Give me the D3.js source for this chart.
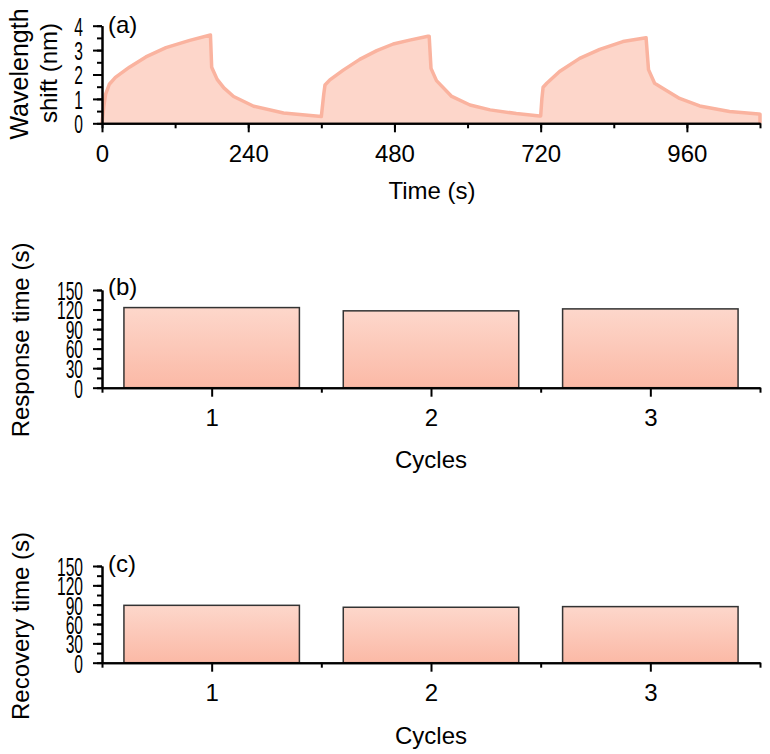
<!DOCTYPE html>
<html>
<head>
<meta charset="utf-8">
<script src="https://cdn.jsdelivr.net/npm/d3@7"></script>
<style>
  html, body { margin: 0; padding: 0; background: #fff; }
  svg { display: block; }
  svg text { font-family: "Liberation Sans", Arial, sans-serif; }
</style>
</head>
<body>
<svg id="chart" width="770" height="754"></svg>
<script>
// (a) wavelength shift vs time, three on/off cycles
const shiftTime = [0, 3, 6, 12, 22, 45, 72, 105, 144, 178, 180, 189, 200, 216, 249, 298, 360,
  364, 366, 374, 396, 423, 451, 478, 505, 535, 537, 540, 549, 574, 604, 637, 680, 718,
  720, 722, 724, 730, 751, 784, 817, 855, 893, 897, 907, 921, 948, 981, 1030, 1078, 1080];
const shiftValue = [0, 0.7, 1.2, 1.6, 1.88, 2.3, 2.72, 3.1, 3.4, 3.62, 2.3, 1.8, 1.45, 1.1, 0.7, 0.42, 0.28,
  1.2, 1.57, 1.78, 2.18, 2.62, 2.98, 3.25, 3.41, 3.57, 3.57, 2.25, 1.75, 1.1, 0.75, 0.55, 0.4, 0.3,
  0.3, 1.0, 1.48, 1.64, 2.12, 2.66, 3.03, 3.35, 3.51, 2.2, 1.64, 1.43, 1.02, 0.71, 0.48, 0.38, 0.37];
const timeTicks = [0, 240, 480, 720, 960];

// (b), (c) bars per cycle
const cycles = [1, 2, 3];
const responseTime = [123, 118, 121];
const recoveryTime = [89, 86, 87];
const timeAxisTicks = [0, 30, 60, 90, 120, 150];

const svg = d3.select('#chart');
const FONT = 24;
const X0 = 102, X1 = 760;

const defs = svg.append('defs');
const grad = defs.append('linearGradient')
  .attr('id', 'barGrad').attr('x1', 0).attr('y1', 0).attr('x2', 0).attr('y2', 1);
grad.append('stop').attr('offset', '0%').attr('stop-color', '#fdd7cb');
grad.append('stop').attr('offset', '100%').attr('stop-color', '#fbb9a6');

// 畫主/次刻度的軸
function drawAxis(g, axisFn, scale, major, minor, fmt) {
  const minorAx = axisFn(scale).tickValues(minor).tickSize(5).tickSizeOuter(0).tickFormat('');
  const majorAx = axisFn(scale).tickValues(major).tickSize(9).tickSizeOuter(0).tickFormat(fmt || d3.format('d'));
  const gm = g.append('g').call(minorAx);
  const gM = g.append('g').call(majorAx);
  [gm, gM].forEach((a) => {
    a.attr('font-family', null).attr('font-size', null);
    a.selectAll('path.domain').attr('stroke', '#000').attr('stroke-width', 2);
    a.selectAll('.tick line').attr('stroke', '#000').attr('stroke-width', 2);
  });
  gM.selectAll('text').attr('fill', '#000').style('font-size', FONT + 'px');
  return gM;
}

function styleY(gM) {
  // 窄化的 y 刻度標籤（原圖字形被壓扁）
  gM.selectAll('.tick text')
    .attr('x', null)
    .attr('dy', '0.36em')
    .attr('text-anchor', 'end')
    .style('font-size', '26px')
    .attr('transform', 'translate(-19,0) scale(0.6,1)');
}

function styleX(gM, offset) {
  gM.selectAll('.tick text').attr('y', offset).attr('dy', null);
}

// ---------- (a) ----------
{
  const x = d3.scaleLinear().domain([0, 1080]).range([X0, X1]);
  const y = d3.scaleLinear().domain([0, 4]).range([123.3, 25.7]);
  const pts = shiftTime.map((t, i) => [t, shiftValue[i]]);

  const area = d3.area().x((d) => x(d[0])).y0(y(0)).y1((d) => y(d[1]));
  const line = d3.line().x((d) => x(d[0])).y((d) => y(d[1]));

  svg.append('path').datum(pts).attr('d', area).attr('fill', '#fdd6ca');
  svg.append('path').datum(pts.concat([[1080, 0]])).attr('d', line)
    .attr('fill', 'none').attr('stroke', '#fab39f').attr('stroke-width', 3.5)
    .attr('stroke-linejoin', 'round');

  const gx = svg.append('g').attr('transform', `translate(0,${y(0)})`);
  styleX(drawAxis(gx, d3.axisBottom, x, timeTicks, d3.range(0, 1081, 120)), 38.5);

  const gy = svg.append('g').attr('transform', `translate(${X0},0)`);
  styleY(drawAxis(gy, d3.axisLeft, y, [0, 1, 2, 3, 4], d3.range(0, 4.01, 0.5)));

  svg.append('text').attr('x', 108).attr('y', 33).style('font-size', FONT + 'px').text('(a)');
  svg.append('text').attr('x', 432).attr('y', 199).attr('text-anchor', 'middle')
    .style('font-size', FONT + 'px').text('Time (s)');
  svg.append('text').attr('transform', 'translate(28,74) rotate(-90)').attr('text-anchor', 'middle')
    .style('font-size', '25px').text('Wavelength');
  svg.append('text').attr('transform', 'translate(57,73) rotate(-90)').attr('text-anchor', 'middle')
    .style('font-size', FONT + 'px').text('shift (nm)');
}

// ---------- (b), (c) ----------
function barPanel(values, yBottom, yTop, tag, tagY, title, titleY, cyclesY) {
  const x = d3.scaleLinear().domain([0.5, 3.5]).range([X0, X1]);
  const y = d3.scaleLinear().domain([0, 150]).range([yBottom, yTop]);
  const w = x(1.3) - x(0.5);

  svg.append('g').selectAll('rect').data(cycles).join('rect')
    .attr('x', (d) => x(d - 0.4))
    .attr('y', (d, i) => y(values[i]))
    .attr('width', w)
    .attr('height', (d, i) => y(0) - y(values[i]))
    .attr('fill', 'url(#barGrad)')
    .attr('stroke', '#333').attr('stroke-width', 1.5);

  const gx = svg.append('g').attr('transform', `translate(0,${yBottom})`);
  styleX(drawAxis(gx, d3.axisBottom, x, cycles, [0.5, 1.5, 2.5, 3.5]), 38);

  const gy = svg.append('g').attr('transform', `translate(${X0},0)`);
  styleY(drawAxis(gy, d3.axisLeft, y, timeAxisTicks, d3.range(0, 151, 15)));

  svg.append('text').attr('x', 108).attr('y', tagY).style('font-size', FONT + 'px').text(tag);
  svg.append('text').attr('x', 431).attr('y', cyclesY).attr('text-anchor', 'middle')
    .style('font-size', FONT + 'px').text('Cycles');
  svg.append('text').attr('transform', `translate(29,${titleY}) rotate(-90)`).attr('text-anchor', 'middle')
    .style('font-size', FONT + 'px').text(title);
}

barPanel(responseTime, 387.7, 290, '(b)', 295, 'Response time (s)', 340, 468);
barPanel(recoveryTime, 662.7, 566, '(c)', 572, 'Recovery time (s)', 626, 744);
</script>
</body>
</html>
